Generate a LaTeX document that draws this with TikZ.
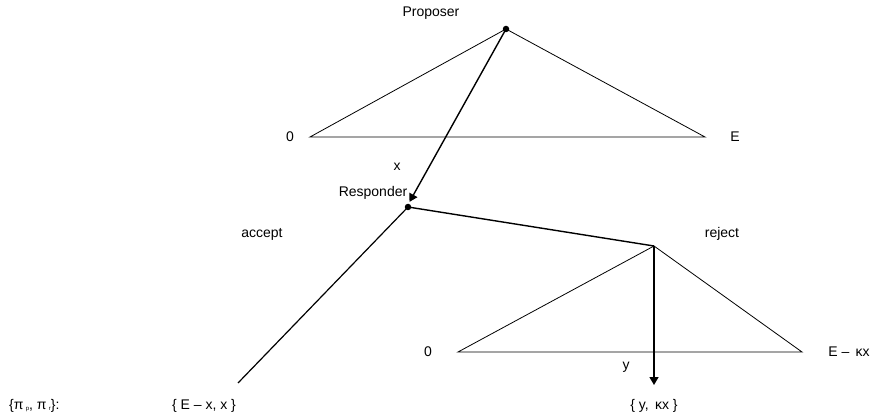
\documentclass[tikz,border=0pt]{standalone}
\usepackage{fontspec}
\setmainfont{Liberation Sans}
\usetikzlibrary{arrows.meta}
\begin{document}
\begin{tikzpicture}[x=1pt,y=-1pt,
  lbl/.style={inner sep=0pt,font=\fontsize{14}{16}\selectfont},
  thin line/.style={line width=0.8pt},
  thick line/.style={line width=1.4pt},
  dotnode/.style={circle,fill=black,inner sep=0pt,minimum size=6.5pt},
  arr/.style={-{Triangle[length=8pt,width=9pt]}}]
\useasboundingbox (0,0) rectangle (888,419);
% decision nodes
\node[dotnode] (P) at (506,29) {};
\node[dotnode] (R) at (408,207) {};
\coordinate (C) at (654,246);
% first triangle
\coordinate (L1) at (310,137);
\coordinate (R1) at (705,137);
\draw[thin line] (P.center) -- (L1) -- (R1) -- cycle;
% second triangle
\coordinate (L2) at (458,352);
\coordinate (R2) at (802,352);
\draw[thin line] (C) -- (L2) -- (R2) -- cycle;
% accept branch end
\coordinate (A) at (238,383);
\coordinate (Y) at (654,385);
\coordinate (Rtip) at (410,201);
% connectors
\draw[thick line,arr,shorten >=-1pt] (P.center) -- (Rtip);
\draw[thick line] (R.center) -- (C);
\draw[line width=1.2pt] (R.center) -- (A);
\draw[thick line,arr] (C) -- (Y);
% labels
\node[lbl] (tP) at (431,13) {Proposer};
\node[lbl] (t0a) at (290,137) {0};
\node[lbl] (tE) at (735,137) {E};
\node[lbl] (tx) at (397,167) {x};
\node[lbl] (tR) at (373,193) {Responder};
\node[lbl] (tacc) at (262,234) {accept};
\node[lbl] (trej) at (722,234) {reject};
\node[lbl] (t0b) at (428,352) {0};
\node[lbl] (tEk) at (849,352) {E –\, κx};
\node[lbl] (ty) at (626,367) {y};
\node[lbl,anchor=west] (tpi) at (9,406) {\{π\,\raisebox{-0.5pt}{\fontsize{6}{6}\selectfont p}, π\,\raisebox{-0.5pt}{\fontsize{6}{6}\selectfont r}\}:};
\node[lbl] (tpay1) at (204,406) {\{ E – x, x \}};
\node[lbl] (tpay2) at (654,406) {\{ y,\, κx \}};
\end{tikzpicture}
\end{document}
